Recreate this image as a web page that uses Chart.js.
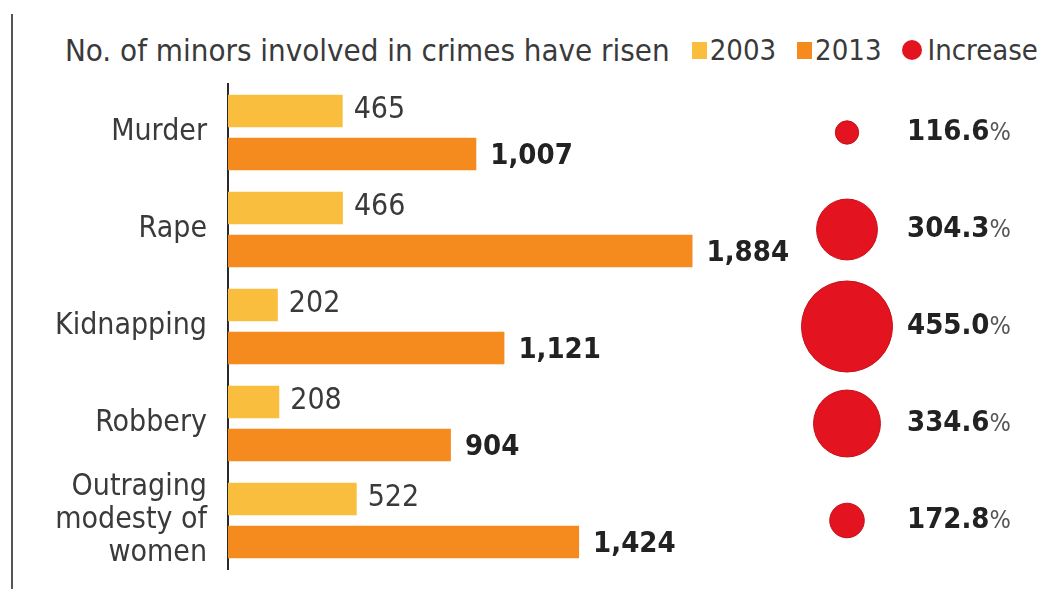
<!DOCTYPE html>
<html>
<head>
<meta charset="utf-8">
<script src="https://cdn.jsdelivr.net/npm/chart.js@4/dist/chart.umd.min.js"></script>
<style>
  body { margin: 0; background: #fff; }
  #wrap { position: relative; width: 1052px; height: 589px; overflow: hidden; font-family: "DejaVu Sans Condensed", "Liberation Sans Narrow", sans-serif; color: #3a3a3a; }
  #rule { position: absolute; left: 11px; top: 14px; width: 2px; height: 575px; background: #555; }
  #head { position: absolute; left: 65px; top: 30px; height: 40px; display: flex; align-items: center; font-size: 29px; white-space: nowrap; }
  #head .title { font-size: 31px; margin-right: 22px; }
  #head .item { display: flex; align-items: center; margin-right: 21px; }
  #head .item:last-child { margin-right: 0; }
  #head .sw { width: 15px; height: 17px; margin-right: 3px; }
  #head .dot { width: 20px; height: 20px; border-radius: 50%; margin-right: 5px; }
  canvas { position: absolute; left: 0; top: 0; }
</style>
</head>
<body>
<div id="wrap">
  <div id="rule"></div>
  <div id="head"></div>
  <canvas id="bars" width="1052" height="589"></canvas>
  <canvas id="bubbles" width="1052" height="589"></canvas>
</div>
<script>
const titleText = 'No. of minors involved in crimes have risen';
const categories = ['Murder', 'Rape', 'Kidnapping', 'Robbery', ['Outraging', 'modesty of', 'women']];
const values2003 = [465, 466, 202, 208, 522];
const values2013 = [1007, 1884, 1121, 904, 1424];
const increase = [116.6, 304.3, 455.0, 334.6, 172.8];
const seriesLabels = ['2003', '2013', 'Increase'];

const colors = ['#f9be3e', '#f58b1f', '#e3141f'];
const fontFam = '"DejaVu Sans Condensed", "Liberation Sans Narrow", sans-serif';
const textColor = '#3a3a3a';

// titre + légende
const head = document.getElementById('head');
head.innerHTML = `<span class="title">${titleText}</span>` +
  seriesLabels.map((lab, i) => `
    <span class="item"><span class="${i < 2 ? 'sw' : 'dot'}" style="background:${colors[i]}"></span>${lab}</span>`).join('');

const padTop = 84, padBottom = 20;

// étiquettes des valeurs au bout des barres
const barLabels = {
  id: 'barLabels',
  afterDatasetsDraw(chart) {
    const ctx = chart.ctx;
    ctx.save();
    ctx.textBaseline = 'middle';
    ctx.textAlign = 'left';
    chart.data.datasets.forEach((ds, di) => {
      const meta = chart.getDatasetMeta(di);
      ctx.font = di === 0 ? `30px ${fontFam}` : `bold 29px ${fontFam}`;
      ctx.fillStyle = di === 0 ? textColor : '#222';
      meta.data.forEach((bar, i) => {
        const txt = ds.data[i].toLocaleString('en-US');
        ctx.fillText(txt, bar.x + (di === 0 ? 11 : 14), bar.y + (di === 0 ? -1 : 2));
      });
    });
    ctx.restore();
  }
};

new Chart(document.getElementById('bars'), {
  type: 'bar',
  data: {
    labels: categories,
    datasets: [
      { label: seriesLabels[0], data: values2003, backgroundColor: colors[0] },
      { label: seriesLabels[1], data: values2013, backgroundColor: colors[1] }
    ]
  },
  options: {
    indexAxis: 'y',
    responsive: false,
    animation: false,
    layout: { padding: { top: padTop, bottom: padBottom, left: 0, right: 252 } },
    categoryPercentage: 0.887,
    barPercentage: 0.756,
    plugins: { legend: { display: false }, tooltip: { enabled: false } },
    scales: {
      x: { display: false, min: 0, max: 2320 },
      y: {
        grid: { display: false },
        border: { display: true, color: '#2a2a2a', width: 2 },
        ticks: { autoSkip: false, color: textColor, padding: 13, font: { family: fontFam, size: 30, lineHeight: 1.1 } },
        afterFit: (s) => { s.width = 228; s.paddingTop = 0; s.paddingBottom = 0; }
      }
    }
  },
  plugins: [barLabels]
});

// pourcentages à droite des bulles
const pctLabels = {
  id: 'pctLabels',
  afterDatasetsDraw(chart) {
    const ctx = chart.ctx;
    const meta = chart.getDatasetMeta(0);
    ctx.save();
    ctx.textBaseline = 'middle';
    ctx.textAlign = 'left';
    meta.data.forEach((pt, i) => {
      const num = increase[i].toFixed(1);
      const x0 = pt.x + 60;
      ctx.font = `bold 29px ${fontFam}`;
      ctx.fillStyle = '#222';
      ctx.fillText(num, x0, pt.y);
      const w = ctx.measureText(num).width;
      ctx.font = `25px "Liberation Sans Narrow", ${fontFam}`;
      ctx.fillStyle = '#555';
      ctx.fillText('%', x0 + w, pt.y + 1);
    });
    ctx.restore();
  }
};

new Chart(document.getElementById('bubbles'), {
  type: 'bubble',
  data: {
    datasets: [{
      label: seriesLabels[2],
      data: increase.map((v, i) => ({ x: seriesLabels[2], y: i, r: v / 10 })),
      backgroundColor: colors[2],
      borderColor: '#c50f19',
      borderWidth: 1,
      clip: false
    }]
  },
  options: {
    responsive: false,
    animation: false,
    layout: { autoPadding: false, padding: { top: padTop, bottom: padBottom, left: 760, right: 118 } },
    plugins: { legend: { display: false }, tooltip: { enabled: false } },
    scales: {
      x: { type: 'category', labels: [seriesLabels[2]], offset: true, display: false },
      y: { type: 'category', labels: categories, offset: true, display: false }
    }
  },
  plugins: [pctLabels]
});
</script>
</body>
</html>
